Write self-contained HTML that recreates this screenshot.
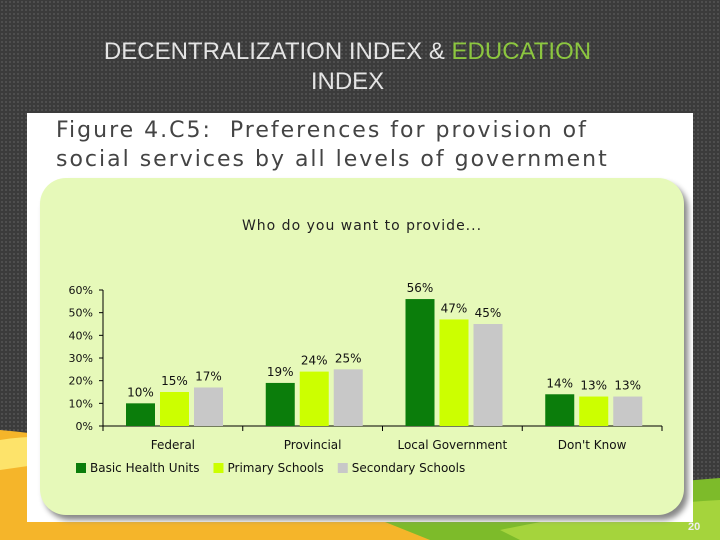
<!DOCTYPE html>
<html><head><meta charset="utf-8"><style>
body{margin:0;width:720px;height:540px;overflow:hidden;background:#3b3b3b;font-family:"Liberation Sans",sans-serif;position:relative}
.dots{position:absolute;inset:0;background-image:radial-gradient(#555 0.8px,transparent 1px);background-size:4px 4px}
</style></head><body>
<div class="dots"></div>
<svg width="720" height="540" style="position:absolute;left:0;top:0">
<path d="M0 430 Q120 440 300 500 L720 480 L720 540 L0 540 Z" fill="#f5b52a"/>
<path d="M0 440 Q60 430 140 450 L0 470 Z" fill="#fde36a"/>
<path d="M380 520 Q560 490 720 478 L720 540 L430 540 Z" fill="#7dbb2a"/>
<path d="M500 530 Q620 505 720 500 L720 540 L520 540 Z" fill="#a5d43c"/>
</svg>
<div style="position:absolute;left:0;width:695px;top:37px;text-align:center;color:#e4e4e4;font-size:24px;line-height:30px">DECENTRALIZATION INDEX &amp; <span style="color:#8cc63f">EDUCATION</span><br>INDEX</div>
<div style="position:absolute;left:27px;top:113px;width:666px;height:409px;background:#fff"></div>
<div style="position:absolute;left:56px;top:116px;color:#444;font-size:22px;line-height:29px;font-family:'DejaVu Sans',sans-serif;letter-spacing:2px;white-space:nowrap">Figure 4.C5:&nbsp; Preferences for provision of<br>social services by all levels of government</div>
<div style="position:absolute;left:40px;top:178px;width:644px;height:337px;background:#e6f9b9;border-radius:26px;box-shadow:4px 5px 6px #888"></div>
<svg id="chart" width="720" height="540" style="position:absolute;left:0;top:0" font-family="'DejaVu Sans',sans-serif">
<text x="362" y="230" text-anchor="middle" font-size="14" fill="#222" letter-spacing="1">Who do you want to provide...</text>
</svg>
<script>
const categories=["Federal","Provincial","Local Government","Don't Know"];
const basicHealth=[10,19,56,14];
const primary=[15,24,47,13];
const secondary=[17,25,45,13];
const yTicks=[0,10,20,30,40,50,60];
const seriesNames=["Basic Health Units","Primary Schools","Secondary Schools"];
const colors=["#0b7d0b","#ccff00","#c8c8c8"];
const svg=document.getElementById('chart');const NS="http://www.w3.org/2000/svg";
const x0=103,x1=662,yb=426,yt=290;
const y=v=>yb-(v/60)*(yb-yt);
const gw=(x1-x0)/categories.length;
function mk(t,a,p){const e=document.createElementNS(NS,t);for(const k in a)e.setAttribute(k,a[k]);(p||svg).appendChild(e);return e;}
let ax=mk('line',{x1:x0,y1:yt,x2:x0,y2:yb,stroke:'#000'});


let bx=mk('line',{x1:x0,y1:yb,x2:x1,y2:yb,stroke:'#000'});


yTicks.forEach(v=>{mk('line',{x1:x0-4,y1:y(v),x2:x0,y2:y(v),stroke:'#000'});
const t=mk('text',{x:x0-10,y:y(v)+4,'text-anchor':'end','font-size':11,fill:'#111'});t.textContent=v+'%';

});
for(let i=0;i<=categories.length;i++)mk('line',{x1:x0+i*gw,y1:yb,x2:x0+i*gw,y2:yb+5,stroke:'#000'});
const series=[basicHealth,primary,secondary];
categories.forEach((c,i)=>{const gx=x0+i*gw;
const t=mk('text',{x:gx+gw/2,y:yb+23,'text-anchor':'middle','font-size':12,fill:'#111'});t.textContent=c;


series.forEach((s,j)=>{const bxp=gx+23+j*34;
const r=mk('rect',{x:bxp,y:y(s[i]),width:29,height:yb-y(s[i]),fill:colors[j]});


const l=mk('text',{x:bxp+14.5,y:y(s[i])-7,'text-anchor':'middle','font-size':12,fill:'#111'});l.textContent=s[i]+'%';

});});
let lx=76;
seriesNames.forEach((n,j)=>{const g=mk('g',{});


mk('rect',{x:lx,y:463,width:10,height:10,fill:colors[j]},g);
const t=mk('text',{x:lx+14,y:472,'font-size':12,fill:'#111'},g);t.textContent=n;
lx+=14+t.getComputedTextLength()+14;});
</script>
<div style="position:absolute;left:688px;top:521px;color:#eee;font-size:11px;font-weight:bold">20</div>
</body></html>
